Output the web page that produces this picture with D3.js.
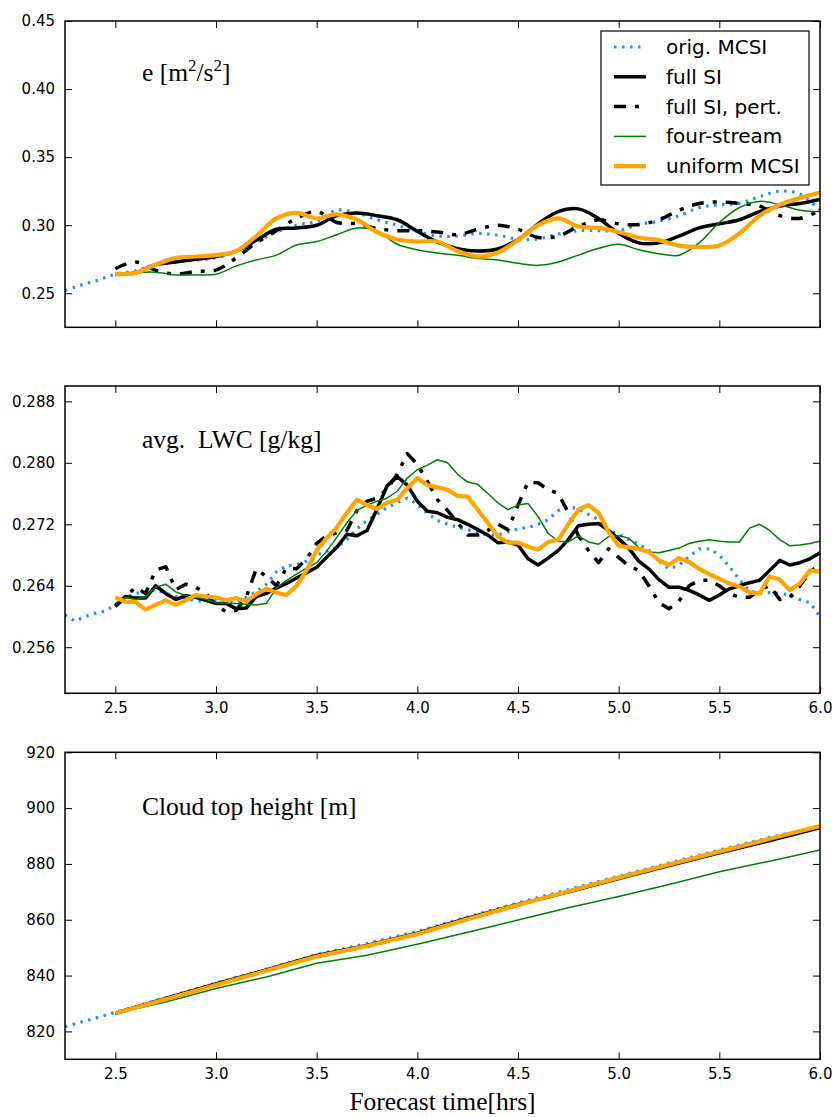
<!DOCTYPE html>
<html>
<head>
<meta charset="utf-8">
<script src="https://cdn.jsdelivr.net/npm/d3@7"></script>
<style>
  html, body { margin: 0; padding: 0; background: #fff; }
  svg { display: block; }
  .tick text { font-family: "DejaVu Sans", sans-serif; font-size: 15px; fill: #000; }
  .tick line { stroke: #000; stroke-width: 1; }
  .serif { font-family: "Liberation Serif", "Times New Roman", serif; font-size: 25.5px; fill: #000; }
  .legend-text { font-family: "DejaVu Sans", sans-serif; font-size: 20px; fill: #000; }
</style>
</head>
<body>
<svg id="chart" width="834" height="1117"></svg>
<script>
// ---------- data ----------
const seriesNames = ["orig. MCSI", "full SI", "full SI, pert.", "four-stream", "uniform MCSI"];

const xTicks = [2.5, 3.0, 3.5, 4.0, 4.5, 5.0, 5.5, 6.0];
const eTicks = [0.25, 0.30, 0.35, 0.40, 0.45];
const lwcTicks = [0.256, 0.264, 0.272, 0.280, 0.288];
const cthTicks = [820, 840, 860, 880, 900, 920];

// turbulent kinetic energy e [m^2/s^2], sampled every 0.1 h
const timeE = [2.5, 2.6, 2.7, 2.8, 2.9, 3.0, 3.1, 3.2, 3.3, 3.4, 3.5, 3.6, 3.7, 3.8, 3.9,
  4.0, 4.1, 4.2, 4.3, 4.4, 4.5, 4.6, 4.7, 4.8, 4.9, 5.0, 5.1, 5.2, 5.3, 5.4, 5.5, 5.6,
  5.7, 5.8, 5.9, 6.0];
const leadTimeE = [2.25, 2.3, 2.35, 2.4, 2.45];
const eOrigLead = [0.252, 0.2545, 0.257, 0.259, 0.2615];
const eOrig = [0.264, 0.2665, 0.271, 0.273, 0.2745, 0.276, 0.281, 0.288, 0.295, 0.300,
  0.303, 0.311, 0.309, 0.304, 0.300, 0.2955, 0.292, 0.292, 0.294, 0.2926, 0.2897, 0.290,
  0.2935, 0.296, 0.296, 0.296, 0.3005, 0.303, 0.307, 0.313, 0.315, 0.316, 0.321, 0.325,
  0.323, 0.311];
const eFull = [0.264, 0.265, 0.271, 0.273, 0.275, 0.277, 0.281, 0.289, 0.297, 0.298,
  0.300, 0.307, 0.309, 0.307, 0.304, 0.2955, 0.2875, 0.2827, 0.281, 0.2825, 0.2895, 0.301,
  0.310, 0.312, 0.305, 0.294, 0.287, 0.287, 0.292, 0.298, 0.301, 0.304, 0.310, 0.314,
  0.316, 0.319];
const ePert = [0.268, 0.273, 0.267, 0.264, 0.266, 0.267, 0.276, 0.287, 0.296, 0.305,
  0.310, 0.302, 0.301, 0.2975, 0.296, 0.296, 0.295, 0.293, 0.297, 0.300, 0.297, 0.291,
  0.292, 0.299, 0.304, 0.301, 0.3005, 0.304, 0.311, 0.316, 0.317, 0.316, 0.314, 0.307,
  0.305, 0.311];
const eFour = [0.263, 0.265, 0.2655, 0.2635, 0.2635, 0.264, 0.270, 0.2745, 0.278, 0.2855,
  0.288, 0.293, 0.298, 0.2955, 0.286, 0.282, 0.2795, 0.278, 0.2755, 0.2745, 0.272, 0.2705,
  0.273, 0.278, 0.283, 0.286, 0.282, 0.279, 0.278, 0.287, 0.302, 0.313, 0.3175, 0.315,
  0.311, 0.310];
const eUniform = [0.264, 0.265, 0.271, 0.276, 0.277, 0.278, 0.281, 0.292, 0.305, 0.309,
  0.305, 0.308, 0.304, 0.295, 0.2895, 0.288, 0.288, 0.281, 0.277, 0.280, 0.289, 0.300,
  0.305, 0.299, 0.298, 0.295, 0.291, 0.289, 0.285, 0.284, 0.285, 0.294, 0.307, 0.315,
  0.320, 0.324];

// average liquid water content [g/kg], sampled every 0.05 h
const timeLWC = [2.50, 2.55, 2.60, 2.65, 2.70, 2.75, 2.80, 2.85, 2.90, 2.95,
  3.00, 3.05, 3.10, 3.15, 3.20, 3.25, 3.30, 3.35, 3.40, 3.45,
  3.50, 3.55, 3.60, 3.65, 3.70, 3.75, 3.80, 3.85, 3.90, 3.95,
  4.00, 4.05, 4.10, 4.15, 4.20, 4.25, 4.30, 4.35, 4.40, 4.45,
  4.50, 4.55, 4.60, 4.65, 4.70, 4.75, 4.80, 4.85, 4.90, 4.95,
  5.00, 5.05, 5.10, 5.15, 5.20, 5.25, 5.30, 5.35, 5.40, 5.45,
  5.50, 5.55, 5.60, 5.65, 5.70, 5.75, 5.80, 5.85, 5.90, 5.95, 6.00];
const leadTimeLWC = [2.25, 2.3, 2.35, 2.4, 2.45];
const lwcOrigLead = [0.2602, 0.2594, 0.2600, 0.2604, 0.2607];
const lwcOrig = [0.2615, 0.2625, 0.2630, 0.2632, 0.2635, 0.2630, 0.2626, 0.2624, 0.2620, 0.2620,
  0.2622, 0.2620, 0.2618, 0.2625, 0.2632, 0.2642, 0.2658, 0.2666, 0.2667, 0.2672,
  0.2680, 0.2685, 0.2690, 0.2700, 0.2714, 0.2725, 0.2733, 0.2742, 0.2748, 0.2754,
  0.2746, 0.2734, 0.2725, 0.2720, 0.2716, 0.2713, 0.2709, 0.2706, 0.2706, 0.2710,
  0.2714, 0.2716, 0.2720, 0.2726, 0.2738, 0.2743, 0.2740, 0.2733, 0.2726, 0.2712,
  0.2707, 0.2700, 0.2694, 0.2686, 0.2672, 0.2662, 0.2667, 0.2678, 0.2688, 0.2688,
  0.2680, 0.2665, 0.2648, 0.2633, 0.2630, 0.2631, 0.2630, 0.2628, 0.2622, 0.2618, 0.2600];
const lwcFull = [0.2614, 0.2626, 0.2624, 0.2624, 0.2640, 0.2630, 0.2622, 0.2627, 0.2625, 0.2621,
  0.2617, 0.2617, 0.2610, 0.2611, 0.2626, 0.2630, 0.2637, 0.2643, 0.2650, 0.2657,
  0.2664, 0.2677, 0.2690, 0.2707, 0.2705, 0.2712, 0.2740, 0.2770, 0.2782, 0.2771,
  0.2750, 0.2737, 0.2735, 0.2729, 0.2726, 0.2720, 0.2713, 0.2706, 0.2696, 0.2697,
  0.2693, 0.2675, 0.2667, 0.2676, 0.2686, 0.2700, 0.2718, 0.2720, 0.2721, 0.2712,
  0.2701, 0.2689, 0.2672, 0.2662, 0.2648, 0.2638, 0.2638, 0.2634, 0.2628, 0.2621,
  0.2628, 0.2636, 0.2640, 0.2644, 0.2647, 0.2660, 0.2673, 0.2667, 0.2670, 0.2675, 0.2683];
const lwcPert = [0.2613, 0.2625, 0.2638, 0.2630, 0.2660, 0.2665, 0.2635, 0.2642, 0.2638, 0.2630,
  0.2615, 0.2606, 0.2608, 0.2625, 0.2662, 0.2652, 0.2640, 0.2663, 0.2662, 0.2675,
  0.2695, 0.2705, 0.2709, 0.2712, 0.2738, 0.2750, 0.2754, 0.2766, 0.2785, 0.2812,
  0.2798, 0.2776, 0.2752, 0.2738, 0.2722, 0.2706, 0.2706, 0.2712, 0.2720, 0.2713,
  0.2745, 0.2775, 0.2774, 0.2765, 0.2760, 0.2735, 0.2705, 0.2686, 0.2670, 0.2688,
  0.2677, 0.2666, 0.2660, 0.2640, 0.2618, 0.2610, 0.2620, 0.2640, 0.2647, 0.2647,
  0.2640, 0.2630, 0.2625, 0.2625, 0.2635, 0.2640, 0.2622, 0.2625, 0.2640, 0.2658, 0.2668];
const lwcFour = [0.2617, 0.2625, 0.2622, 0.2626, 0.2638, 0.2642, 0.2632, 0.2627, 0.2625, 0.2622,
  0.2618, 0.2617, 0.2617, 0.2616, 0.2615, 0.2617, 0.2637, 0.2647, 0.2655, 0.2663,
  0.2670, 0.2685, 0.2703, 0.2722, 0.2738, 0.2745, 0.2750, 0.2754, 0.2763, 0.2780,
  0.2791, 0.2797, 0.2804, 0.2800, 0.2785, 0.2775, 0.2772, 0.2760, 0.2748, 0.2739,
  0.2745, 0.2747, 0.2730, 0.2708, 0.2698, 0.2697, 0.2705, 0.2697, 0.2694, 0.2704,
  0.2705, 0.2702, 0.2690, 0.2684, 0.2683, 0.2686, 0.2689, 0.2695, 0.2698, 0.2700,
  0.2698, 0.2697, 0.2697, 0.2715, 0.2720, 0.2712, 0.2700, 0.2692, 0.2693, 0.2695, 0.2698];
const lwcUniform = [0.2625, 0.2619, 0.2619, 0.2609, 0.2615, 0.2621, 0.2615, 0.2621, 0.2628, 0.2626,
  0.2625, 0.2621, 0.2624, 0.2620, 0.2629, 0.2636, 0.2631, 0.2628, 0.2640, 0.2660,
  0.2686, 0.2702, 0.2716, 0.2735, 0.2752, 0.2745, 0.2740, 0.2748, 0.2752, 0.2767,
  0.2780, 0.2771, 0.2768, 0.2765, 0.2757, 0.2756, 0.2739, 0.2722, 0.2704, 0.2696,
  0.2696, 0.2691, 0.2687, 0.2697, 0.2700, 0.2720, 0.2739, 0.2745, 0.2735, 0.2710,
  0.2692, 0.2690, 0.2688, 0.2684, 0.2673, 0.2667, 0.2676, 0.2671, 0.2662, 0.2655,
  0.2649, 0.2643, 0.2639, 0.2631, 0.2630, 0.2652, 0.2648, 0.2634, 0.2643, 0.2660, 0.2658];

// cloud top height [m], sampled every 0.25 h
const timeCTH = [2.5, 2.75, 3.0, 3.25, 3.5, 3.75, 4.0, 4.25, 4.5, 4.75, 5.0, 5.25, 5.5, 5.75, 6.0];
const leadTimeCTH = [2.25];
const cthOrigLead = [821.7];
const cthOrig = [826.8, 832.0, 837.3, 842.3, 847.5, 851.5, 855.8, 861.0, 866.0, 870.8, 875.6, 880.3, 885.0, 889.5, 893.4];
const cthFull = [826.5, 831.8, 837.0, 842.0, 847.2, 850.8, 855.2, 860.6, 865.5, 870.0, 874.8, 879.4, 884.0, 888.4, 893.0];
const cthPert = [826.5, 831.7, 836.9, 841.9, 847.0, 850.5, 855.0, 860.4, 865.3, 870.1, 874.9, 879.5, 884.2, 888.7, 893.3];
const cthFour = [826.5, 830.5, 835.4, 839.5, 844.4, 847.3, 851.2, 855.5, 859.9, 864.3, 868.3, 872.6, 877.2, 881.0, 885.0];
const cthUniform = [826.5, 831.5, 836.6, 841.7, 846.8, 850.6, 854.9, 860.2, 865.3, 870.2, 875.1, 879.8, 884.4, 889.0, 893.6];

// ---------- styles ----------
const lineStyles = [
  { color: "#1e90ff", width: 3.2, dash: "2.5,5.5" },
  { color: "#000000", width: 3.5, dash: null },
  { color: "#000000", width: 3.5, dash: "12,9,4,9" },
  { color: "#008000", width: 1.5, dash: null },
  { color: "#ffa500", width: 4.2, dash: null }
];

const svg = d3.select("#chart");
const plotLeft = 65, plotRight = 820;
const x = d3.scaleLinear().domain([2.25, 6.0]).range([plotLeft, plotRight]);

function zip(t, v) { return t.map((ti, i) => [ti, v[i]]); }

const panels = [
  {
    id: "e", top: 21, bottom: 327.3, domain: [0.225, 0.45], ticks: eTicks,
    fmt: d3.format(".2f"), xLabels: false, curve: d3.curveCatmullRom,
    series: [
      zip(leadTimeE.concat(timeE), eOrigLead.concat(eOrig)),
      zip(timeE, eFull), zip(timeE, ePert), zip(timeE, eFour), zip(timeE, eUniform)
    ]
  },
  {
    id: "lwc", top: 386, bottom: 693.3, domain: [0.25, 0.29], ticks: lwcTicks,
    fmt: d3.format(".3f"), xLabels: true, curve: d3.curveLinear,
    series: [
      zip(leadTimeLWC.concat(timeLWC), lwcOrigLead.concat(lwcOrig)),
      zip(timeLWC, lwcFull), zip(timeLWC, lwcPert), zip(timeLWC, lwcFour), zip(timeLWC, lwcUniform)
    ]
  },
  {
    id: "cth", top: 752.3, bottom: 1059.3, domain: [810, 920], ticks: cthTicks,
    fmt: d3.format("d"), xLabels: true, curve: d3.curveLinear,
    series: [
      zip(leadTimeCTH.concat(timeCTH), cthOrigLead.concat(cthOrig)),
      zip(timeCTH, cthFull), zip(timeCTH, cthPert), zip(timeCTH, cthFour), zip(timeCTH, cthUniform)
    ]
  }
];

const defs = svg.append("defs");
const tickLen = 7;

panels.forEach(p => {
  const y = d3.scaleLinear().domain(p.domain).range([p.bottom, p.top]);
  const g = svg.append("g").attr("class", "panel-" + p.id);

  defs.append("clipPath").attr("id", "clip-" + p.id)
    .append("rect")
    .attr("x", plotLeft).attr("y", p.top)
    .attr("width", plotRight - plotLeft).attr("height", p.bottom - p.top);

  // data lines
  const line = d3.line().x(d => x(d[0])).y(d => y(d[1])).curve(p.curve);
  const lines = g.append("g").attr("clip-path", "url(#clip-" + p.id + ")");
  p.series.forEach((s, i) => {
    const st = lineStyles[i];
    lines.append("path")
      .datum(s)
      .attr("d", line)
      .attr("fill", "none")
      .attr("stroke", st.color)
      .attr("stroke-width", st.width)
      .attr("stroke-dasharray", st.dash)
      .attr("stroke-linejoin", "round");
  });

  // axes with inward ticks on all four sides
  const xb = d3.axisBottom(x).tickValues(xTicks).tickSizeInner(-tickLen).tickSizeOuter(0)
    .tickPadding(9.5).tickFormat(p.xLabels ? d3.format(".1f") : () => "");
  g.append("g").attr("transform", `translate(0,${p.bottom})`).call(xb)
    .call(a => a.select(".domain").remove());
  const xt = d3.axisTop(x).tickValues(xTicks).tickSizeInner(-tickLen).tickSizeOuter(0)
    .tickFormat(() => "");
  g.append("g").attr("transform", `translate(0,${p.top})`).call(xt)
    .call(a => a.select(".domain").remove());
  const yl = d3.axisLeft(y).tickValues(p.ticks).tickSizeInner(-tickLen).tickSizeOuter(0)
    .tickPadding(10).tickFormat(p.fmt);
  g.append("g").attr("transform", `translate(${plotLeft},0)`).call(yl)
    .call(a => a.select(".domain").remove());
  const yr = d3.axisRight(y).tickValues(p.ticks).tickSizeInner(-tickLen).tickSizeOuter(0)
    .tickFormat(() => "");
  g.append("g").attr("transform", `translate(${plotRight},0)`).call(yr)
    .call(a => a.select(".domain").remove());

  svg.selectAll(".tick text").attr("font-family", null).attr("font-size", null);

  // frame
  g.append("rect")
    .attr("x", plotLeft).attr("y", p.top)
    .attr("width", plotRight - plotLeft).attr("height", p.bottom - p.top)
    .attr("fill", "none").attr("stroke", "#000").attr("stroke-width", 1.5);

  p.y = y;
  p.g = g;
});

// panel titles
const t1 = panels[0].g.append("text").attr("class", "serif").attr("x", 142).attr("y", 81);
t1.append("tspan").text("e [m");
t1.append("tspan").attr("dy", -10).attr("font-size", "17px").text("2");
t1.append("tspan").attr("dy", 10).text("/s");
t1.append("tspan").attr("dy", -10).attr("font-size", "17px").text("2");
t1.append("tspan").attr("dy", 10).text("]");

panels[1].g.append("text").attr("class", "serif").attr("x", 142).attr("y", 448)
  .attr("xml:space", "preserve").text("avg.  LWC [g/kg]");
panels[2].g.append("text").attr("class", "serif").attr("x", 142).attr("y", 815)
  .text("Cloud top height [m]");

// x-axis title
svg.append("text").attr("class", "serif")
  .attr("x", (plotLeft + plotRight) / 2).attr("y", 1110)
  .attr("text-anchor", "middle").text("Forecast time[hrs]");

// legend
const lg = panels[0].g.append("g").attr("class", "legend");
lg.append("rect").attr("x", 601).attr("y", 31).attr("width", 208).attr("height", 154)
  .attr("fill", "#fff").attr("stroke", "#000").attr("stroke-width", 1.2);
seriesNames.forEach((name, i) => {
  const st = lineStyles[i];
  const cy = 47 + i * 29.8;
  lg.append("line")
    .attr("x1", 614).attr("x2", 646).attr("y1", cy).attr("y2", cy)
    .attr("stroke", st.color).attr("stroke-width", st.width)
    .attr("stroke-dasharray", st.dash);
  lg.append("text").attr("class", "legend-text")
    .attr("x", 666).attr("y", cy + 7).text(name);
});
</script>
</body>
</html>
